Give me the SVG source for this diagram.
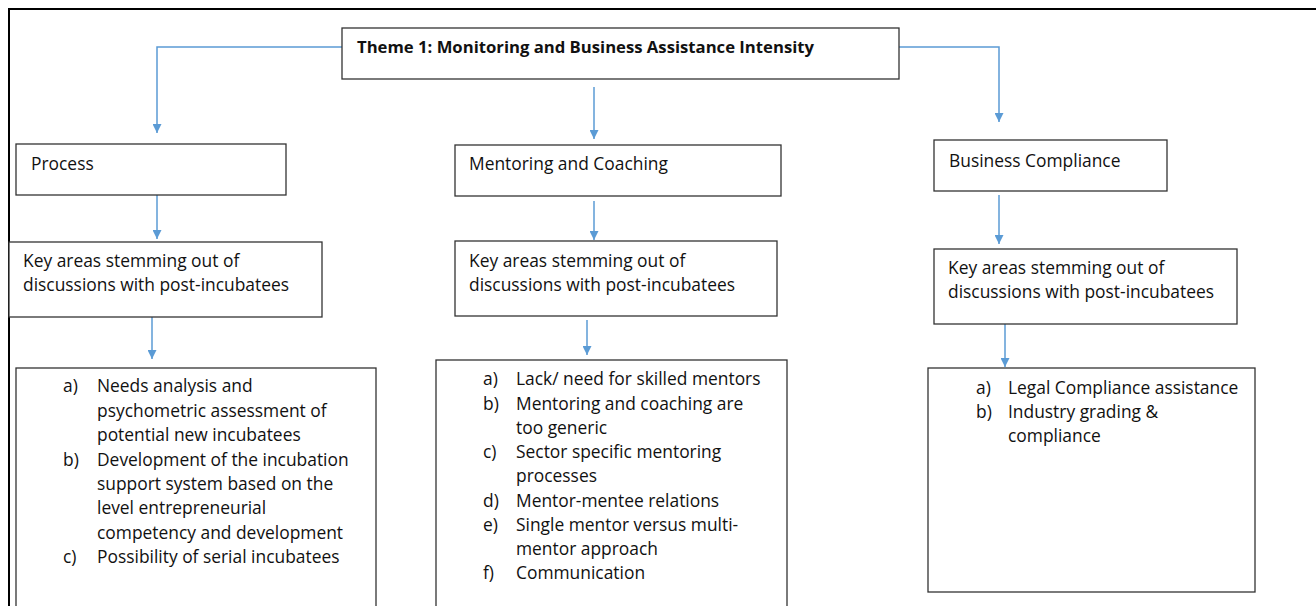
<svg xmlns="http://www.w3.org/2000/svg" width="1316" height="606" viewBox="0 0 1316 606">
<style>
.box{fill:#fff;stroke:#333;stroke-width:1.3}
.t{font-family:"Open Sans","Liberation Sans",Arial,sans-serif;font-size:17.4px;fill:#111}
.tb{font-family:"Open Sans","Liberation Sans",Arial,sans-serif;font-size:15.5px;font-weight:bold;fill:#111}
.c{fill:none;stroke:#5b9bd5;stroke-width:1.5}
</style>
<defs>
<marker id="ah" viewBox="0 0 10 10" refX="10" refY="5" markerWidth="9" markerHeight="9" markerUnits="userSpaceOnUse" orient="auto">
<path d="M0,0 L10,5 L0,10 z" fill="#5b9bd5"/>
</marker>
</defs>
<rect width="1316" height="606" fill="#fff"/>
<g id="frame">
<line x1="8" y1="9" x2="1316" y2="9" stroke="#000" stroke-width="2"/>
<line x1="9" y1="8" x2="9" y2="606" stroke="#000" stroke-width="2"/>
</g>
<g id="connectors">
<path class="c" d="M342,47 H157 V133" marker-end="url(#ah)"/>
<path class="c" d="M899,47 H999 V122" marker-end="url(#ah)"/>
<path class="c" d="M594,87 V139" marker-end="url(#ah)"/>
<path class="c" d="M157,195 V239" marker-end="url(#ah)"/>
<path class="c" d="M594,201 V240" marker-end="url(#ah)"/>
<path class="c" d="M999,195 V244" marker-end="url(#ah)"/>
<path class="c" d="M152,317 V359" marker-end="url(#ah)"/>
<path class="c" d="M587,320 V355" marker-end="url(#ah)"/>
<path class="c" d="M1005,324 V367" marker-end="url(#ah)"/>
</g>
<g id="theme">
<rect class="box" x="342" y="28" width="557" height="51"/>
<text class="tb" x="357" y="53" textLength="457" lengthAdjust="spacingAndGlyphs">Theme 1: Monitoring and Business Assistance Intensity</text>
</g>
<g id="process">
<rect class="box" x="16" y="144" width="270" height="51"/>
<text class="t" x="31" y="169.5">Process</text>
</g>
<g id="mentoring">
<rect class="box" x="455" y="145" width="326" height="51"/>
<text class="t" x="469" y="169.5">Mentoring and Coaching</text>
</g>
<g id="compliance">
<rect class="box" x="934" y="140" width="233" height="51"/>
<text class="t" x="949" y="166.5">Business Compliance</text>
</g>
<g id="key1">
<rect class="box" x="9" y="242" width="313" height="75"/>
<text class="t" x="23" y="266.5">Key areas stemming out of</text>
<text class="t" x="23" y="290.5">discussions with post-incubatees</text>
</g>
<g id="key2">
<rect class="box" x="455" y="241" width="322" height="75"/>
<text class="t" x="469" y="266.5">Key areas stemming out of</text>
<text class="t" x="469" y="290.5">discussions with post-incubatees</text>
</g>
<g id="key3">
<rect class="box" x="934" y="249" width="303" height="75"/>
<text class="t" x="948" y="273.5">Key areas stemming out of</text>
<text class="t" x="948" y="297.5">discussions with post-incubatees</text>
</g>
<g id="list1">
<rect class="box" x="16" y="368" width="360" height="250"/>
<text class="t" x="63" y="391.5">a)</text>
<text class="t" x="97" y="391.5">Needs analysis and</text>
<text class="t" x="97" y="416.5">psychometric assessment of</text>
<text class="t" x="97" y="440.5">potential new incubatees</text>
<text class="t" x="63" y="465.5">b)</text>
<text class="t" x="97" y="465.5">Development of the incubation</text>
<text class="t" x="97" y="489.5">support system based on the</text>
<text class="t" x="97" y="513.5">level entrepreneurial</text>
<text class="t" x="97" y="538.5">competency and development</text>
<text class="t" x="63" y="562.5">c)</text>
<text class="t" x="97" y="562.5">Possibility of serial incubatees</text>
</g>
<g id="list2">
<rect class="box" x="436" y="360" width="351" height="260"/>
<text class="t" x="483" y="384.5">a)</text>
<text class="t" x="516" y="384.5">Lack/ need for skilled mentors</text>
<text class="t" x="483" y="409.5">b)</text>
<text class="t" x="516" y="409.5">Mentoring and coaching are</text>
<text class="t" x="516" y="433.5">too generic</text>
<text class="t" x="483" y="457.5">c)</text>
<text class="t" x="516" y="457.5">Sector specific mentoring</text>
<text class="t" x="516" y="481.5">processes</text>
<text class="t" x="483" y="506.5">d)</text>
<text class="t" x="516" y="506.5">Mentor-mentee relations</text>
<text class="t" x="483" y="530.5">e)</text>
<text class="t" x="516" y="530.5">Single mentor versus multi-</text>
<text class="t" x="516" y="554.5">mentor approach</text>
<text class="t" x="483" y="578.5">f)</text>
<text class="t" x="516" y="578.5">Communication</text>
</g>
<g id="list3">
<rect class="box" x="928" y="368" width="327" height="224"/>
<text class="t" x="976" y="393.5">a)</text>
<text class="t" x="1008" y="393.5">Legal Compliance assistance</text>
<text class="t" x="976" y="417.5">b)</text>
<text class="t" x="1008" y="417.5">Industry grading &amp;</text>
<text class="t" x="1008" y="441.5">compliance</text>
</g>
</svg>
